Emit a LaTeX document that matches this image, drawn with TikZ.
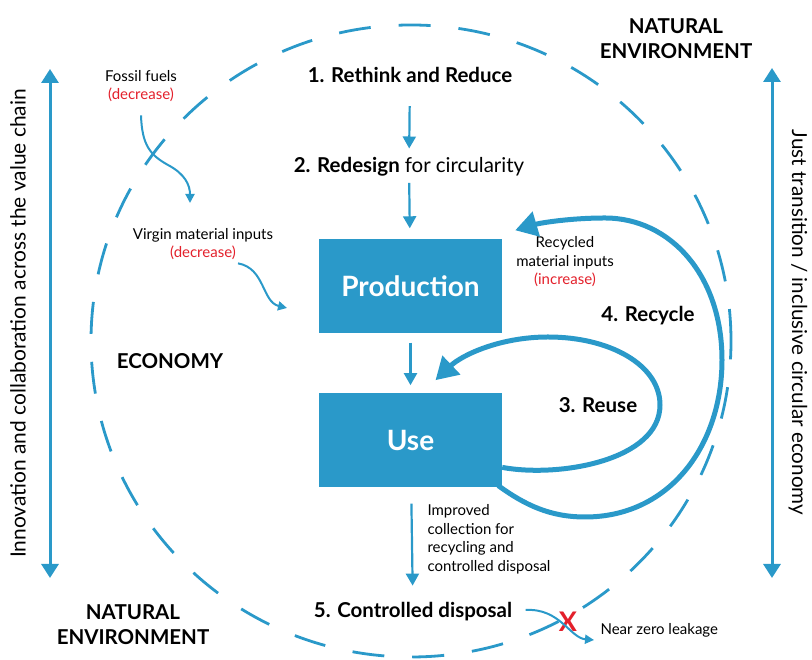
\documentclass[tikz,border=0pt]{standalone}
\usepackage{fontspec}
\setmainfont{Lato}
\usepackage{graphicx}
\usepackage{tikz}
\usetikzlibrary{positioning, arrows.meta}

\definecolor{ceblue}{HTML}{2A99C9}
\definecolor{cered}{HTML}{E3202B}

\begin{document}
\begin{tikzpicture}[x=1pt, y=1pt,
  stagebox/.style={fill=ceblue, text=white, minimum width=183pt, minimum height=94pt, inner sep=0pt,
    font=\fontsize{28}{32}\selectfont\bfseries},
  steplabel/.style={font=\fontsize{20.5}{25}\selectfont\bfseries, align=center},
  note/.style={font=\fontsize{15}{18.5}\selectfont, align=center},
  sidetext/.style={font=\fontsize{20}{22}\selectfont},
  flow/.style={ceblue, line width=2.2pt, -{Triangle[length=12pt, width=13pt]}},
  thinflow/.style={ceblue, line width=2pt, -{Triangle[length=9pt, width=9pt]}},
  loopflow/.style={ceblue, line width=5pt, -{Triangle[length=22pt, width=25pt]}},
  span/.style={ceblue, line width=3pt, {Triangle[length=14pt, width=17pt]}-{Triangle[length=14pt, width=17pt]}},
  boundary/.style={ceblue, line width=2.8pt, dash pattern=on 32pt off 28pt}
]
\useasboundingbox (0,0) rectangle (812,660);

% economy boundary
\draw[boundary] (411,319) ellipse [x radius=320, y radius=316];

% production and use
\node[stagebox] (prod) at (410.5,373.5) {Production};
\node[stagebox, below=59.5pt of prod] (use) {Use};

% stages
\node[steplabel] (rethink) at (410,585) {1. Rethink and Reduce};
\node[steplabel] (redesign) at (409,493) {2. Redesign {\mdseries for circularity}};
\node[steplabel] (disposal) at (413,48) {5. Controlled disposal};
\node[steplabel] (reuse) at (598,255) {3. Reuse};
\node[steplabel] (recycle) at (648,344) {4. Recycle};
\node[steplabel] (economy) at (170,299) {ECONOMY};
\node[steplabel] (envtop) at (676,621) {NATURAL\\ENVIRONMENT};
\node[steplabel] (envbottom) at (133,35) {NATURAL\\ENVIRONMENT};

% material notes
\node[note] (fossil) at (141,574) {Fossil fuels\\\textcolor{cered}{(decrease)}};
\node[note] (virgin) at (203,416) {Virgin material inputs\\\textcolor{cered}{(decrease)}};
\node[note] (recycled) at (565,398) {Recycled\\material inputs\\\textcolor{cered}{(increase)}};
\node[note, align=left, anchor=west] (collect) at (424,120.5) {Improved\\collection for\\recycling and\\controlled disposal};
\node[note, anchor=west] (leak) at (597,30) {Near zero leakage};
\node[text=cered, font=\fontsize{27}{27}\selectfont\bfseries] (cross) at (568,38) {X};
\coordinate (fossilend) at (190,457);
\coordinate (virginend) at (287,352);

% side arrows
\node[sidetext, rotate=90] (innov) at (18,336.5)
  {\resizebox{469pt}{!}{Innovation and collaboration across the value chain}};
\node[sidetext, rotate=-90] (just) at (798,337.5)
  {\resizebox{385pt}{!}{Just transition / inclusive circular economy}};
\coordinate (ltop) at (50,591);
\coordinate (lbot) at (50,82);
\coordinate (rtop) at (772,592);
\coordinate (rbot) at (772,82);
\draw[span] (lbot) -- (ltop);
\draw[span] (rbot) -- (rtop);

% main flow
\draw[flow, shorten <=20pt, shorten >=5.5pt] (rethink) -- (redesign);
\draw[flow, shorten <=3pt, shorten >=11pt] (redesign) -- (prod);
\draw[flow, shorten <=9pt, shorten >=8pt] (prod) -- (use);
\draw[flow, shorten <=16pt, shorten >=13.5pt] (use) -- (disposal);

% loops
\draw[loopflow] ([yshift=-27pt]use.east) .. controls (560,182) and (660,200) .. (660,255)
  .. controls (660,295) and (610,323) .. (548,323)
  .. controls (500,323) and (462,305) .. ([xshift=25pt,yshift=13pt]use.north);
\draw[loopflow] ([xshift=-4pt,yshift=2pt]use.south east) .. controls (525,155) and (550,143) .. (585,143)
  .. controls (670,143) and (722,215) .. (722,300)
  .. controls (722,385) and (670,442) .. (605,442)
  .. controls (570,442) and (540,437) .. ([xshift=13pt,yshift=9pt]prod.north east);

% inputs and leakage
\draw[thinflow] ([yshift=-10pt]fossil.south) .. controls (142,515) and (150,505) .. (168,495)
  .. controls (185,486) and (190,475) .. (fossilend);
\draw[thinflow] ([xshift=35pt]virgin.south) .. controls (265,392) and (262,358) .. (virginend);
\draw[thinflow] ([xshift=10pt,yshift=2pt]disposal.east) .. controls (560,52) and (570,22) .. ([xshift=-3pt,yshift=-10pt]leak.west);
\end{tikzpicture}
\end{document}
